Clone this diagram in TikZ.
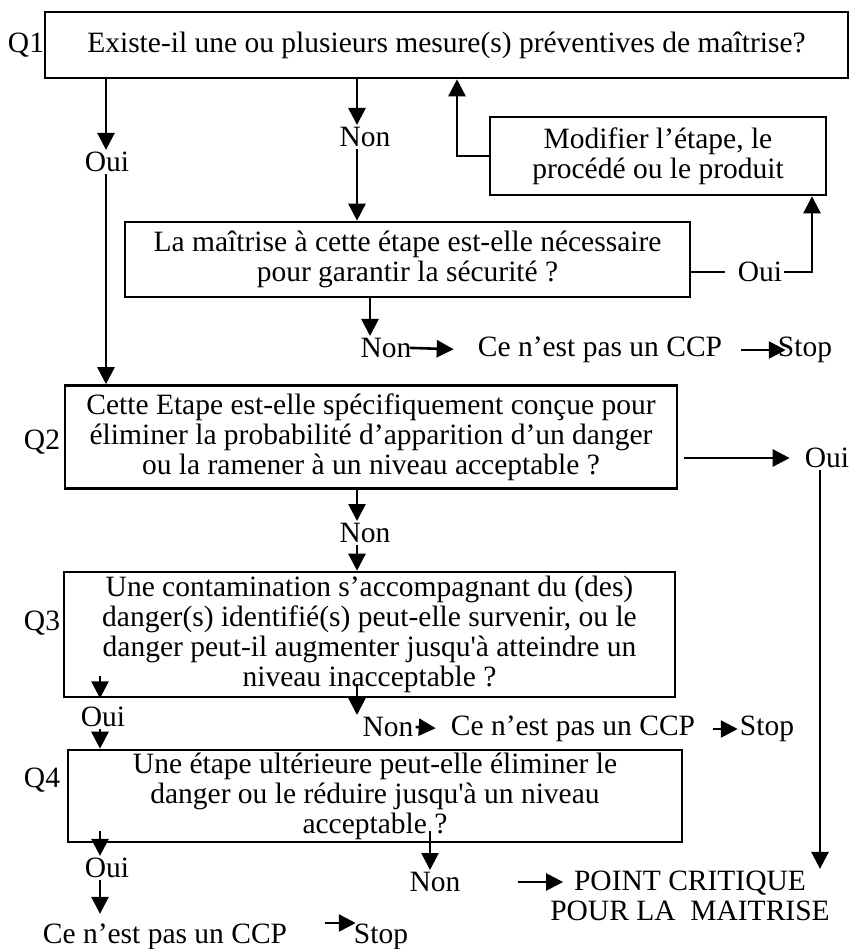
\documentclass[tikz,border=0pt]{standalone}
\usepackage{fontspec}
\setmainfont{Liberation Serif}[Ligatures=TeXOff]
\usetikzlibrary{arrows.meta}

\begin{document}
\begin{tikzpicture}[x=1pt,y=-1pt,
  font=\fontsize{29.5}{30}\selectfont,
  box/.style={draw,line width=2.6pt,align=center,inner sep=0pt},
  lbl/.style={inner sep=2pt},
  arr/.style={line width=2.6pt,-{Triangle[length=17pt,width=17pt]}}]
\useasboundingbox (0,0) rectangle (849,949);
\coordinate (cA) at (106,0);
\coordinate (cB) at (357,0);
\coordinate (cC) at (457,0);
\coordinate (cD) at (812,0);
\coordinate (cE) at (370,0);
\coordinate (cF) at (820,0);
\coordinate (cG) at (100,0);
\coordinate (cH) at (430,0);
\node[lbl] (lq1) at (26,45) {Q1};
\node[lbl] (lq2) at (42,442) {Q2};
\node[lbl] (lq3) at (42,623) {Q3};
\node[lbl] (lq4) at (42,780) {Q4};
\node[box,minimum width=803pt,minimum height=66pt] (q1) at (446.5,45) {Existe-il une ou plusieurs mesure(s) préventives de maîtrise?};
\node[box,minimum width=336pt,minimum height=78pt] (mod) at (658,156) {Modifier l’étape, le\\procédé ou le produit};
\node[box,minimum width=565pt,minimum height=75pt] (mait) at (407.5,259.5) {La maîtrise à cette étape est-elle nécessaire\\pour garantir la sécurité ?};
\node[box,minimum width=612pt,minimum height=103pt] (q2) at (371,437) {Cette Etape est-elle spécifiquement conçue pour\\éliminer la probabilité d’apparition d’un danger\\ou la ramener à un niveau acceptable ?};
\node[box,minimum width=611pt,minimum height=125pt] (q3) at (369.5,634.5) {Une contamination s’accompagnant du (des)\\danger(s) identifié(s) peut-elle survenir, ou le\\danger peut-il augmenter jusqu'à atteindre un\\niveau inacceptable ?};
\node[box,minimum width=614pt,minimum height=92pt] (q4) at (375,796) {Une étape ultérieure peut-elle éliminer le\\danger ou le réduire jusqu'à un niveau\\acceptable ?};
\node[lbl] (oui1) at (107,162) {Oui};
\node[lbl] (non1) at (365,137) {Non};
\node[lbl] (oui2) at (760,272) {Oui};
\node[lbl] (non2) at (386,348) {Non};
\node[lbl] (ccp1) at (600,350) {Ce n’est pas un CCP};
\node[lbl] (stop1) at (805,350) {Stop};
\node[lbl] (oui3) at (827,458) {Oui};
\node[lbl] (non3) at (365,533) {Non};
\node[lbl] (oui4) at (103,717) {Oui};
\node[lbl] (non4) at (388,727) {Non};
\node[lbl] (ccp2) at (573,729) {Ce n’est pas un CCP};
\node[lbl] (stop2) at (767,729) {Stop};
\node[lbl] (oui5) at (107,868) {Oui};
\node[lbl] (non5) at (435,882) {Non};
\node[lbl,align=center] (pc) at (690,896) {POINT CRITIQUE\\POUR LA\ \ MAITRISE};
\node[lbl] (ccp3) at (165,937) {Ce n’est pas un CCP};
\node[lbl] (stop3) at (381,937) {Stop};
\draw[arr] (q1.south -| cA) -- (oui1.north -| cA);
\draw[arr] (oui1.south -| cA) -- (q2.north -| cA);
\draw[arr] (q1.south -| cB) -- (non1.north -| cB);
\draw[arr] (non1.south -| cB) -- (mait.north -| cB);
\draw[arr] (mod.west) -| (q1.south -| cC);
\draw[line width=2.6pt,shorten >=11pt] (mait.east |- oui2) -- (oui2.west);
\draw[arr] (oui2.east) -| (mod.south -| cD);
\draw[arr] (mait.south -| cE) -- (non2.north -| cE);
\draw[arr,shorten <=-4pt,shorten >=22pt] (non2.east) -- (ccp1.west);
\draw[arr,shorten <=17pt,shorten >=-10pt] (ccp1.east) -- (stop1.west);
\draw[arr,shorten <=6pt,shorten >=13pt] (q2.east |- oui3) -- (oui3.west);
\draw[arr] (oui3.south -| cF) -- (pc.north -| cF);
\draw[arr] (q2.south -| cB) -- (non3.north -| cB);
\draw[arr] (non3.south -| cB) -- (q3.north -| cB);
\draw[arr] ([yshift=22pt]q3.south -| cG) -- (q3.south -| cG);
\draw[arr] (oui4.south -| cG) -- (q4.north -| cG);
\draw[arr] ([yshift=14pt]q3.south -| cB) -- (non4.north -| cB);
\draw[arr,shorten >=13pt] (non4.east) -- (ccp2.west);
\draw[arr,shorten <=16pt] (ccp2.east) -- (stop2.west);
\draw[arr] ([yshift=12pt]q4.south -| cG) -- (oui5.north -| cG);
\draw[arr,shorten >=8pt] (oui5.south -| cG) -- (ccp3.north -| cG);
\draw[arr] ([yshift=12pt]q4.south -| cH) -- (non5.north -| cH);
\draw[arr,shorten <=55pt,shorten >=-15pt] (non5.east) -- (pc.west |- non5);
\draw[arr,shorten <=36pt,shorten >=-4pt] ([yshift=14pt]ccp3.east) -- ([yshift=14pt]stop3.west);
\end{tikzpicture}
\end{document}
